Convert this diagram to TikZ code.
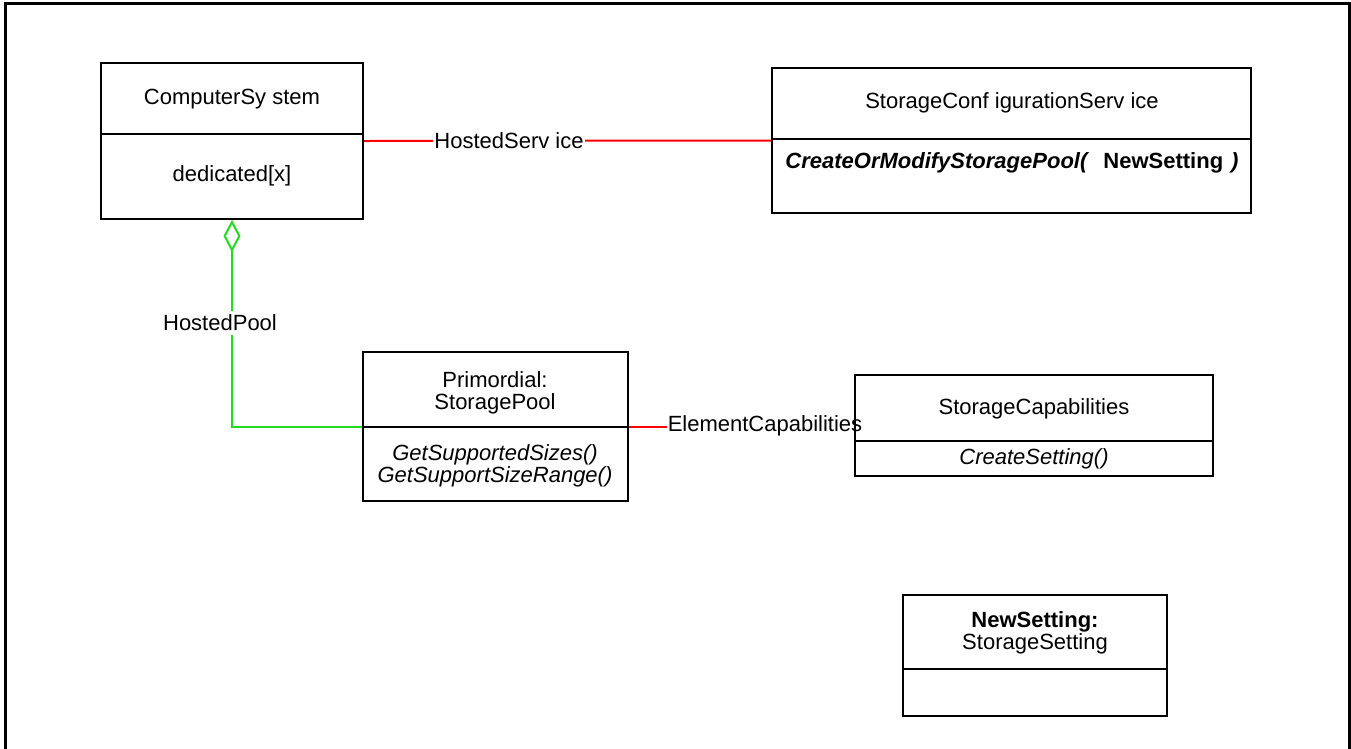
\documentclass[tikz,border=0pt]{standalone}
\usepackage{fontspec}
\setmainfont{Liberation Sans}
\usetikzlibrary{arrows.meta}
\definecolor{assocred}{RGB}{255,0,0}
\definecolor{aggrgreen}{RGB}{30,220,30}
\newcommand\umlfont{\fontsize{22}{21.5}\selectfont}
\pgfdeclarelayer{bg}
\pgfsetlayers{bg,main}
\begin{document}
\begin{tikzpicture}[x=1pt,y=-1pt,
  every node/.style={font=\umlfont},
  classbox/.style={draw=black, line width=2pt, inner sep=0pt},
  divider/.style={draw=black, line width=2pt},
  lbl/.style={inner sep=1pt, align=center},
  conn/.style={line width=2pt},
]
\useasboundingbox (0,0) rectangle (1351,748);
% outer frame
\draw[line width=3pt] (5,760) -- (5,3.5) -- (1349,3.5) -- (1349,760);

% class boxes (outlines only)
\node[classbox, minimum width=262pt, minimum height=156pt] (cs) at (232,141) {};
\node[classbox, minimum width=479pt, minimum height=145pt] (scs) at (1011.5,140.5) {};
\node[classbox, minimum width=265pt, minimum height=149pt] (sp) at (495.5,426.5) {};
\node[classbox, minimum width=358pt, minimum height=101pt] (scap) at (1034,425.5) {};
\node[classbox, minimum width=264pt, minimum height=121pt] (ns) at (1035,655.5) {};

% connectors (behind the boxes)
\begin{pgfonlayer}{bg}
\draw[conn, assocred] (cs.east) -- (scs.west);
\node[lbl, fill=white] (hslbl) at (509,141) {HostedServ ice};
\draw[conn, assocred] (sp.east) -- (sp.east -| scap.west);
\node[lbl, fill=white] (eclbl) at (765,426) {ElementCapabilities};
\draw[conn, aggrgreen, -{Diamond[open, length=32pt, width=17pt]}] (sp.west) -| (cs.south);
\node[lbl, fill=white, inner ysep=4pt] (hplbl) at (220,323) {HostedPool};
\end{pgfonlayer}

% compartment dividers
\draw[divider] (101,134) -- (363,134);
\draw[divider] (772,139) -- (1251,139);
\draw[divider] (363,427) -- (628,427);
\draw[divider] (855,441) -- (1213,441);
\draw[divider] (903,669) -- (1167,669);

% texts
\node[lbl] (cst) at (232,99) {ComputerSy stem};
\node[lbl] (csa) at (232,176) {dedicated[x]};
\node[lbl] (scst) at (1012,103) {StorageConf igurationServ ice};
\node[lbl] (scsm) at (1012,163) {\textbf{\textit{CreateOrModifyStoragePool(}}\hspace{14pt}\textbf{NewSetting}\hspace{8pt}\textbf{\textit{)}}};
\node[lbl] (spt) at (495,393) {Primordial:\\StoragePool};
\node[lbl, font=\umlfont\itshape] (spm) at (495,466) {GetSupportedSizes()\\GetSupportSizeRange()};
\node[lbl] (scapt) at (1034,409) {StorageCapabilities};
\node[lbl, font=\umlfont\itshape] (scapm) at (1034,459) {CreateSetting()};
\node[lbl] (nst) at (1035,633) {\textbf{NewSetting:}\\StorageSetting};
\end{tikzpicture}
\end{document}
